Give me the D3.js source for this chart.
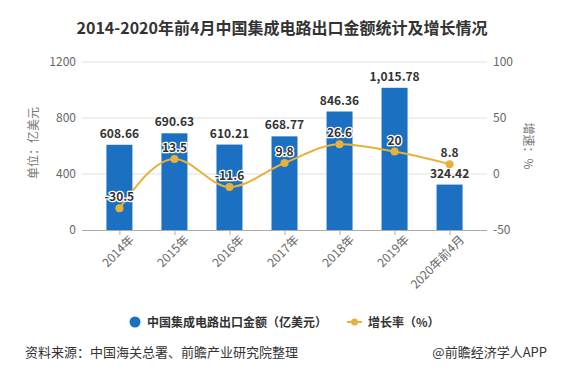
<!DOCTYPE html>
<html>
<head>
<meta charset="utf-8">
<script src="https://cdn.jsdelivr.net/npm/d3@7"></script>
<style>
  body { margin: 0; background: #fff; }
  svg { display: block; font-family: "Noto Sans CJK SC", "Noto Sans", sans-serif; }
  .chart__label { font-size: 12px; font-weight: bold; fill: #333; }
  .chart__label--rate { stroke: #fff; stroke-width: 2.5px; paint-order: stroke; stroke-linejoin: round; }
  .chart__tick { font-size: 12px; fill: #666; }
</style>
</head>
<body>
<div id="chart"></div>
<script>
// Data
const categories = ["2014年", "2015年", "2016年", "2017年", "2018年", "2019年", "2020年前4月"];
const exportValues = [608.66, 690.63, 610.21, 668.77, 846.36, 1015.78, 324.42];
const exportLabels = ["608.66", "690.63", "610.21", "668.77", "846.36", "1,015.78", "324.42"];
const growthRates = [-30.5, 13.5, -11.6, 9.8, 26.6, 20, 8.8];
const leftTicks = [0, 400, 800, 1200];
const rightTicks = [-50, 0, 50, 100];

const W = 569, H = 372;
const margin = { top: 62, left: 82, right: 82, bottom: 142 };
const plotBottom = 230;

const BAR_COLOR = "#1c70c1";
const LINE_COLOR = "#e6b23c";

const svg = d3.select("#chart").append("svg")
  .attr("width", W)
  .attr("height", H);

// Scales
const x = d3.scalePoint()
  .domain(categories)
  .range([margin.left, W - margin.right])
  .padding(0.68);

const yLeft = d3.scaleLinear()
  .domain([0, 1200])
  .range([plotBottom, margin.top]);

const yRight = d3.scaleLinear()
  .domain([-50, 100])
  .range([plotBottom, margin.top]);

const barWidth = 26;

// Title
svg.append("text")
  .attr("x", 282)
  .attr("y", 34)
  .attr("text-anchor", "middle")
  .style("font-size", "16px")
  .style("font-weight", "bold")
  .style("fill", "#333")
  .text("2014-2020年前4月中国集成电路出口金额统计及增长情况");

// Grid lines
svg.append("g")
  .selectAll("line")
  .data(leftTicks.filter(d => d > 0))
  .join("line")
  .attr("x1", margin.left)
  .attr("x2", W - margin.right)
  .attr("y1", d => yLeft(d))
  .attr("y2", d => yLeft(d))
  .attr("stroke", "#e0e0e0")
  .attr("stroke-width", 1);

// Left axis labels
svg.append("g")
  .selectAll("text")
  .data(leftTicks)
  .join("text")
  .attr("class", "chart__tick")
  .attr("x", 76)
  .attr("y", d => yLeft(d) + 4)
  .attr("text-anchor", "end")
  .text(d => d);

// Right axis labels
svg.append("g")
  .selectAll("text")
  .data(rightTicks)
  .join("text")
  .attr("class", "chart__tick")
  .attr("x", 493)
  .attr("y", d => yRight(d) + 4)
  .attr("text-anchor", "start")
  .text(d => d);

// Axis titles
svg.append("text")
  .attr("transform", "translate(38,143) rotate(-90)")
  .attr("text-anchor", "middle")
  .style("font-size", "12px")
  .style("fill", "#777")
  .text("单位：亿美元");

svg.append("text")
  .attr("transform", "translate(524,146) rotate(90)")
  .attr("text-anchor", "middle")
  .style("font-size", "12px")
  .style("fill", "#777")
  .text("增速：%");

// Bars
svg.append("g")
  .selectAll("rect")
  .data(exportValues)
  .join("rect")
  .attr("x", (d, i) => x(categories[i]) - barWidth / 2)
  .attr("y", d => yLeft(d))
  .attr("width", barWidth)
  .attr("height", d => plotBottom - yLeft(d))
  .attr("fill", BAR_COLOR);

// X axis
const xAxis = d3.axisBottom(x).tickSize(5).tickSizeOuter(0);
const gX = svg.append("g")
  .attr("transform", "translate(0," + plotBottom + ")")
  .call(xAxis);

gX.select(".domain")
  .attr("d", "M" + margin.left + ",0.5H" + (W - margin.right))
  .attr("stroke", "#aaa");

gX.selectAll(".tick line").attr("stroke", "#aaa");

gX.selectAll(".tick text")
  .attr("class", "chart__tick")
  .style("font-family", null)
  .attr("text-anchor", "end")
  .attr("dx", "3px")
  .attr("dy", "10px")
  .attr("transform", "rotate(-45)");

gX.attr("font-family", null).attr("font-size", null);

// Bar value labels
svg.append("g")
  .selectAll("text")
  .data(exportValues)
  .join("text")
  .attr("class", "chart__label")
  .attr("x", (d, i) => x(categories[i]))
  .attr("y", d => yLeft(d) - 7)
  .attr("text-anchor", "middle")
  .text((d, i) => exportLabels[i]);

// Growth line
const line = d3.line()
  .x((d, i) => x(categories[i]))
  .y(d => yRight(d))
  .curve(d3.curveMonotoneX);

svg.append("path")
  .datum(growthRates)
  .attr("d", line)
  .attr("fill", "none")
  .attr("stroke", LINE_COLOR)
  .attr("stroke-width", 2);

svg.append("g")
  .selectAll("circle")
  .data(growthRates)
  .join("circle")
  .attr("cx", (d, i) => x(categories[i]))
  .attr("cy", d => yRight(d))
  .attr("r", 4)
  .attr("fill", LINE_COLOR);

// Growth labels
svg.append("g")
  .selectAll("text")
  .data(growthRates)
  .join("text")
  .attr("class", "chart__label chart__label--rate")
  .attr("x", (d, i) => x(categories[i]))
  .attr("y", d => yRight(d) - 7)
  .attr("text-anchor", "middle")
  .text(d => d);

// Legend
const legend = svg.append("g").attr("transform", "translate(0,322)");

legend.append("circle")
  .attr("cx", 135)
  .attr("cy", 0)
  .attr("r", 5.5)
  .attr("fill", BAR_COLOR);

legend.append("text")
  .attr("x", 147)
  .attr("y", 4.5)
  .style("font-size", "12px")
  .style("font-weight", "bold")
  .style("fill", "#333")
  .text("中国集成电路出口金额（亿美元）");

legend.append("line")
  .attr("x1", 347)
  .attr("x2", 362)
  .attr("y1", 0)
  .attr("y2", 0)
  .attr("stroke", LINE_COLOR)
  .attr("stroke-width", 2);

legend.append("circle")
  .attr("cx", 354.5)
  .attr("cy", 0)
  .attr("r", 3.5)
  .attr("fill", LINE_COLOR);

legend.append("text")
  .attr("x", 368)
  .attr("y", 4.5)
  .style("font-size", "12px")
  .style("font-weight", "bold")
  .style("fill", "#333")
  .text("增长率（%）");

// Footer
svg.append("text")
  .attr("x", 25)
  .attr("y", 357)
  .style("font-size", "13px")
  .style("fill", "#333")
  .text("资料来源：中国海关总署、前瞻产业研究院整理");

svg.append("text")
  .attr("x", 547)
  .attr("y", 357)
  .attr("text-anchor", "end")
  .style("font-size", "13px")
  .style("fill", "#333")
  .text("@前瞻经济学人APP");
</script>
</body>
</html>
